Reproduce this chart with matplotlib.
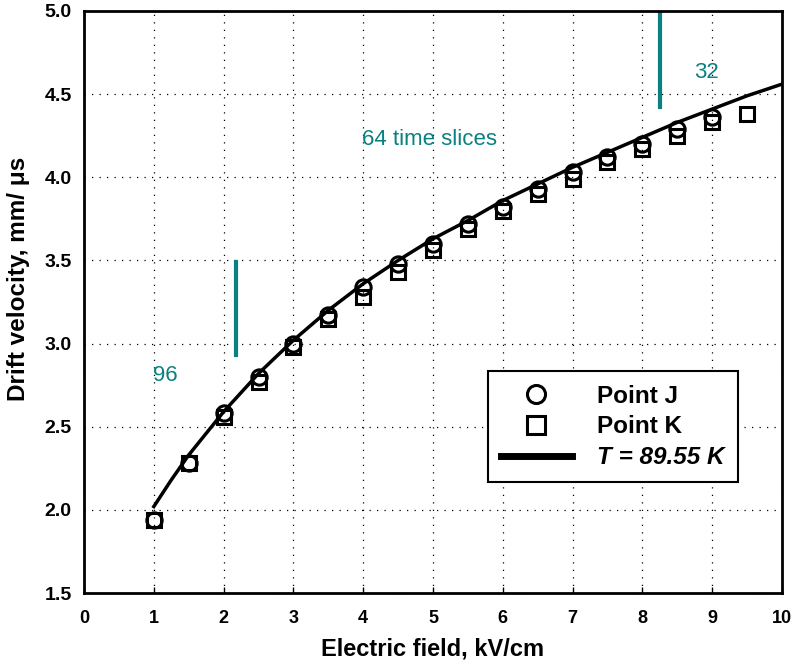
import matplotlib
matplotlib.use("Agg")
import matplotlib.pyplot as plt
from matplotlib.lines import Line2D

########################################
# Data
########################################
field_j     = [1.0, 1.5, 2.0, 2.5, 3.0, 3.5, 4.0, 4.5, 5.0, 5.5, 6.0, 6.5, 7.0, 7.5, 8.0, 8.5, 9.0]
velocity_j  = [1.94, 2.28, 2.58, 2.80, 3.00, 3.17, 3.34, 3.48, 3.60, 3.72, 3.82, 3.93, 4.03, 4.12, 4.20, 4.29, 4.36]

field_k     = [1.0, 1.5, 2.0, 2.5, 3.0, 3.5, 4.0, 4.5, 5.0, 5.5, 6.0, 6.5, 7.0, 7.5, 8.0, 8.5, 9.0, 9.5]
velocity_k  = [1.94, 2.28, 2.56, 2.77, 2.98, 3.15, 3.28, 3.43, 3.56, 3.69, 3.80, 3.90, 3.99, 4.09, 4.17, 4.25, 4.33, 4.38]

field_fit   = [1.0, 1.25, 1.5, 1.75, 2.0, 2.5, 3.0, 3.5, 4.0, 4.5, 5.0, 5.5, 6.0, 6.5, 7.0, 7.5, 8.0, 8.5, 9.0, 9.5, 10.0]
velocity_fit = [2.02, 2.18, 2.33, 2.46, 2.59, 2.82, 3.02, 3.20, 3.36, 3.50, 3.63, 3.74, 3.86, 3.96, 4.06, 4.15, 4.24, 4.33, 4.41, 4.49, 4.56]

x_ticks     = [0, 1, 2, 3, 4, 5, 6, 7, 8, 9, 10]
y_ticks     = [1.5, 2.0, 2.5, 3.0, 3.5, 4.0, 4.5, 5.0]

TEAL        = "#0a8080"
plt.rcParams["font.family"] = ["Liberation Sans", "DejaVu Sans"]

########################################
# Figure
########################################
fig = plt.figure(figsize=(7.95, 6.62), dpi=100)
ax  = fig.add_axes([0.1057, 0.1042, 0.8779, 0.8792])

ax.plot(field_fit, velocity_fit, color="black", lw=2.5, zorder=3)
ax.plot(field_j, velocity_j, ls="none", marker="o", ms=11, mfc="none",
        mec="black", mew=2.2, zorder=4)
ax.plot(field_k, velocity_k, ls="none", marker="s", ms=10.5, mfc="none",
        mec="black", mew=2.2, zorder=4)

# time slice annotations
ax.plot([2.18, 2.18], [2.93, 3.49], color=TEAL, lw=3)
ax.plot([8.25, 8.25], [4.42, 4.98], color=TEAL, lw=3)
ax.text(0.99, 2.81, "96", color=TEAL, fontsize=16, va="center", ha="left")
ax.text(3.98, 4.23, "64 time slices", color=TEAL, fontsize=16, va="center", ha="left")
ax.text(8.74, 4.63, "32", color=TEAL, fontsize=16, va="center", ha="left")

ax.set_xlim(0, 10)
ax.set_ylim(1.5, 5.0)
ax.set_xticks(x_ticks)
ax.set_yticks(y_ticks)
ax.set_xticklabels([str(t) for t in x_ticks], fontweight="bold", fontsize=13)
ax.set_yticklabels([f"{t:.1f}" for t in y_ticks], fontweight="bold", fontsize=14)
ax.tick_params(axis="x", direction="in", length=4, width=1, pad=12)
ax.tick_params(axis="y", length=0, pad=9)

ax.grid(True, color="black", ls=(0, (1, 5)), lw=0.9)
for spine in ax.spines.values():
    spine.set_linewidth(2)

ax.set_xlabel("Electric field, kV/cm", fontweight="bold", fontsize=17, labelpad=8)
ax.set_ylabel("Drift velocity, mm/ \u03bcs", fontweight="bold", fontsize=17.5, labelpad=10)
ax.yaxis.label.set_y(0.54)

handles = [
    Line2D([], [], ls="none", marker="o", ms=13, mfc="none", mec="black", mew=2.2),
    Line2D([], [], ls="none", marker="s", ms=13, mfc="none", mec="black", mew=2.2),
    Line2D([], [], color="black", lw=5),
]
leg = ax.legend(handles, ["Point J", "Point K", "T = 89.55 K"],
                loc="lower right", bbox_to_anchor=(0.937, 0.19),
                frameon=True, fancybox=False, edgecolor="black",
                framealpha=1, prop={"weight": "bold", "size": 17.5},
                handlelength=2.9, handletextpad=1.05, borderpad=0.55,
                borderaxespad=0, labelspacing=0.32)
leg.get_frame().set_linewidth(1.5)
leg.get_texts()[2].set_fontstyle("italic")

fig.savefig("out.png", dpi=100)
